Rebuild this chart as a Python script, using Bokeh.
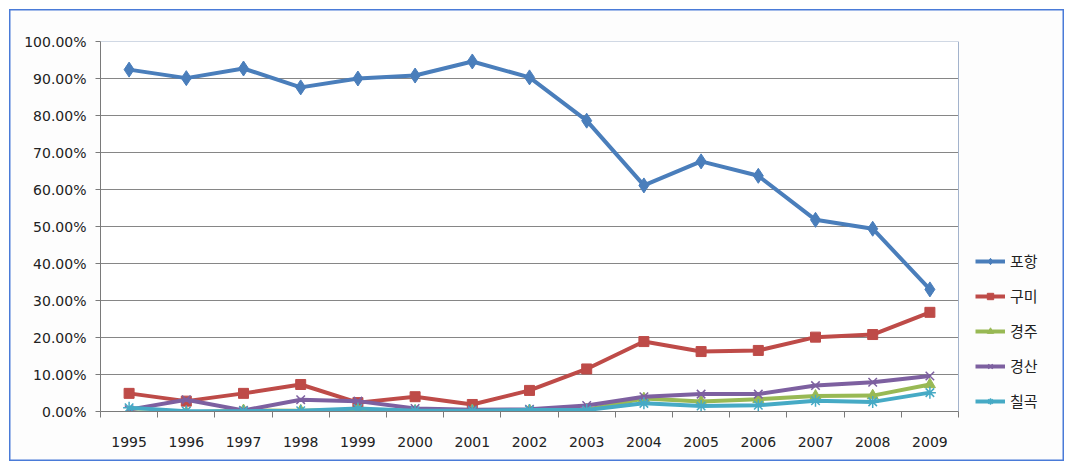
from bokeh.plotting import figure
from bokeh.models import (FixedTicker, NumeralTickFormatter, Legend, LegendItem,
                          Range1d)
from bokeh.embed import file_html
from bokeh.resources import INLINE

years = ["1995", "1996", "1997", "1998", "1999", "2000", "2001", "2002",
         "2003", "2004", "2005", "2006", "2007", "2008", "2009"]
pohang = [92.4, 90.1, 92.7, 87.6, 90.0, 90.8, 94.6, 90.3, 78.6, 61.1, 67.6, 63.7, 51.8, 49.4, 33.0]
gumi = [4.9, 2.8, 4.9, 7.3, 2.4, 4.0, 1.9, 5.7, 11.5, 18.9, 16.2, 16.5, 20.1, 20.8, 26.8]
gyeongju = [-0.3, -0.3, 0.3, 0.2, 0.5, 0.2, 0.3, 0.3, 0.5, 3.5, 2.7, 3.3, 4.2, 4.3, 7.3]
gyeongsan = [0.5, 3.2, 0.3, 3.2, 2.8, 0.8, 0.5, 0.6, 1.6, 4.0, 4.7, 4.7, 7.0, 7.9, 9.6]
chilgok = [1.0, 0.1, 0.1, 0.2, 0.8, 0.2, 0.2, 0.4, 0.4, 2.2, 1.5, 1.7, 2.9, 2.6, 5.1]
y_ticks = [0.0, 0.1, 0.2, 0.3, 0.4, 0.5, 0.6, 0.7, 0.8, 0.9, 1.0]

series = [
    ("포항", pohang, "#4a7ebb", "diamond", 15),
    ("구미", gumi, "#be4b48", "square", 10),
    ("경주", gyeongju, "#98b954", "triangle", 11),
    ("경산", gyeongsan, "#7d60a0", "x", 12),
    ("칠곡", chilgok, "#46aac5", "asterisk", 12),
]

TICK_FONT = "DejaVu Sans"
LEG_FONT = "Noto Sans CJK KR"

# Plot area spans 100..958 px for the 15 categories; the frame is extended
# to the right (to 1064 px) to host the legend.
n = len(years)
x_end = n * (1064 - 100) / (958 - 100)

p = figure(width=1073, height=470, output_backend="svg", toolbar_location=None,
           x_range=Range1d(0, x_end), y_range=Range1d(0, 1.0),
           min_border_left=100, min_border_right=9, min_border_top=41,
           min_border_bottom=59)
p.background_fill_alpha = 0
p.border_fill_alpha = 0
p.outline_line_color = None
p.styles = {"box-shadow": "inset 0 0 0 9px white, inset 0 0 0 10.5px #4a7bd8",
            "background-color": "#fdfdfd"}

xs = [i + 0.5 for i in range(n)]

# axes
p.yaxis.ticker = FixedTicker(ticks=y_ticks)
p.yaxis.formatter = NumeralTickFormatter(format="0.00%")
p.yaxis.axis_line_color = "#7a7a7a"
p.yaxis.major_tick_line_color = "#7a7a7a"
p.yaxis.major_tick_out = 5
p.yaxis.major_tick_in = 0
p.yaxis.minor_tick_line_color = None
p.yaxis.major_label_standoff = 9
p.yaxis.major_label_text_font = TICK_FONT
p.yaxis.major_label_text_font_size = "14px"
p.yaxis.major_label_text_color = "#222222"

p.xaxis.ticker = FixedTicker(ticks=xs, minor_ticks=list(range(n + 1)))
p.xaxis.major_label_overrides = {x: y for x, y in zip(xs, years)}
p.xaxis.bounds = (0, n)
p.xaxis.axis_line_color = "#7a7a7a"
p.xaxis.major_tick_out = 0
p.xaxis.major_tick_in = 0
p.xaxis.minor_tick_out = 6
p.xaxis.minor_tick_in = 0
p.xaxis.minor_tick_line_color = "#7a7a7a"
p.xaxis.major_label_standoff = 19
p.xaxis.major_label_text_font = TICK_FONT
p.xaxis.major_label_text_font_size = "14px"
p.xaxis.major_label_text_color = "#222222"

p.xgrid.grid_line_color = None
p.ygrid.grid_line_color = None

# plot-area background, gridlines and border limited to the category span
p.quad(left=0, right=n, bottom=0, top=1.0, fill_color="white", line_color=None)
inner = y_ticks[1:-1]
p.segment(x0=[0] * len(inner), x1=[n] * len(inner), y0=inner, y1=inner,
          line_color="#868686", line_width=1)
p.segment(x0=[0, n], x1=[n, n], y0=[1.0, 0], y1=[1.0, 1.0],
          line_color="#a3b3cc", line_width=1)

items = []
for name, vals, color, marker, size in series:
    ys = [v / 100 for v in vals]
    r1 = p.line(xs, ys, line_color=color, line_width=4)
    if marker in ("x", "asterisk"):
        r2 = p.scatter(xs, ys, marker=marker, size=size, line_color=color,
                       line_width=1.5, fill_color=color)
    else:
        r2 = p.scatter(xs, ys, marker=marker, size=size, line_color=color,
                       fill_color=color)
    items.append(LegendItem(label=name, renderers=[r1, r2]))

legend = Legend(items=items, location=(875, 0), orientation="vertical",
                padding=0, margin=0, spacing=14, glyph_width=30, glyph_height=16,
                label_height=16, label_standoff=5,
                label_text_font=LEG_FONT, label_text_font_size="15px",
                label_text_color="#222222",
                border_line_color=None, background_fill_alpha=0)
p.add_layout(legend, "center")

open("out.html", "w").write(file_html(p, INLINE))
